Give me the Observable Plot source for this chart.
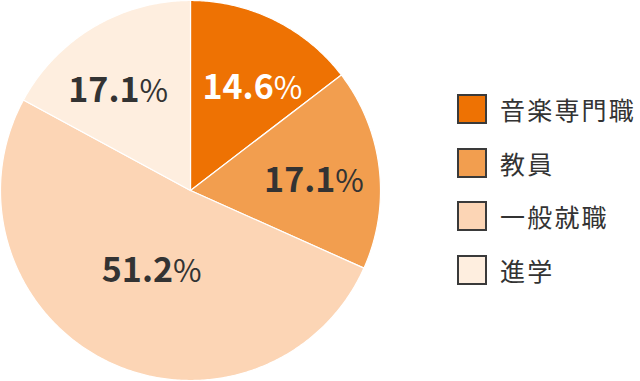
<!DOCTYPE html>
<html>
<head>
<meta charset="utf-8">
<script src="https://cdn.jsdelivr.net/npm/d3@7"></script>
<script src="https://cdn.jsdelivr.net/npm/@observablehq/plot@0.6"></script>
<style>
  html, body { margin: 0; padding: 0; background: #fff; }
  #wrap { position: relative; width: 640px; height: 381px; font-family: "Noto Sans CJK JP", "Noto Sans", sans-serif; }
  #legend { position: absolute; left: 457px; top: 94px; }
  .item { display: flex; align-items: center; height: 30px; margin-bottom: 23.5px; }
  .sw { width: 26px; height: 26px; border: 2px solid #3a3a3a; margin-right: 13px; flex: none; }
  .lab { font-size: 25px; color: #333; letter-spacing: 2.2px; line-height: 30px; }
</style>
</head>
<body>
<div id="wrap"></div>
<script>
const categories = ["音楽専門職", "教員", "一般就職", "進学"];
const values = [14.6, 17.1, 51.2, 17.1];
const colors = ["#EE7203", "#F29E4F", "#FCD5B5", "#FEEEDF"];
const labelColors = ["#ffffff", "#333333", "#333333", "#333333"];

const arcs = d3.pie().sort(null).value(d => d)(values);
const pts = [];
arcs.forEach((a, i) => {
  const cat = categories[i];
  pts.push({cat, x: 0, y: 0});
  const n = Math.max(2, Math.ceil((a.endAngle - a.startAngle) / 0.01));
  for (let k = 0; k <= n; k++) {
    const t = a.startAngle + (a.endAngle - a.startAngle) * k / n;
    pts.push({cat, x: Math.sin(t), y: Math.cos(t)});
  }
  pts.push({cat, x: 0, y: 0});
});

// label placement: radius factor and small angular nudge per slice
const labelR = [0.645, 0.665, 0.455, 0.65];
const labelNudge = [0.093, 0.023, -0.023, -0.065];
const labels = arcs.map((a, i) => {
  const m = (a.startAngle + a.endAngle) / 2 + labelNudge[i];
  const r = labelR[i];
  return {cat: categories[i], num: values[i].toFixed(1), x: r * Math.sin(m), y: r * Math.cos(m), color: labelColors[i]};
});

const chart = Plot.plot({
  width: 640,
  height: 381,
  marginLeft: 0,
  marginRight: 260,
  marginTop: 0,
  marginBottom: 1,
  x: {domain: [-1, 1], axis: null},
  y: {domain: [-1, 1], axis: null},
  color: {domain: categories, range: colors},
  style: {fontFamily: "'Noto Sans CJK JP', 'Noto Sans', sans-serif", background: "transparent"},
  marks: [
    Plot.line(pts, {x: "x", y: "y", z: "cat", fill: "cat", stroke: "white", strokeWidth: 1.2, curve: "linear"}),
    Plot.text(labels, {x: "x", y: "y", text: "num", fill: d => d.color, fontSize: 34, fontWeight: "bold", textAnchor: "end", lineAnchor: "bottom", dx: 19, dy: 13, letterSpacing: -3.5}),
    Plot.text(labels, {x: "x", y: "y", text: () => "%", fill: d => d.color, fontSize: 31, fontWeight: 400, textAnchor: "start", lineAnchor: "bottom", dx: 19, dy: 13})
  ]
});
const wrap = document.getElementById("wrap");
wrap.appendChild(chart);

const legend = document.createElement("div");
legend.id = "legend";
categories.forEach((c, i) => {
  const it = document.createElement("div");
  it.className = "item";
  const sw = document.createElement("div");
  sw.className = "sw";
  sw.style.background = colors[i];
  const lb = document.createElement("span");
  lb.className = "lab";
  lb.textContent = c;
  it.appendChild(sw); it.appendChild(lb);
  legend.appendChild(it);
});
wrap.appendChild(legend);
</script>
</body>
</html>
